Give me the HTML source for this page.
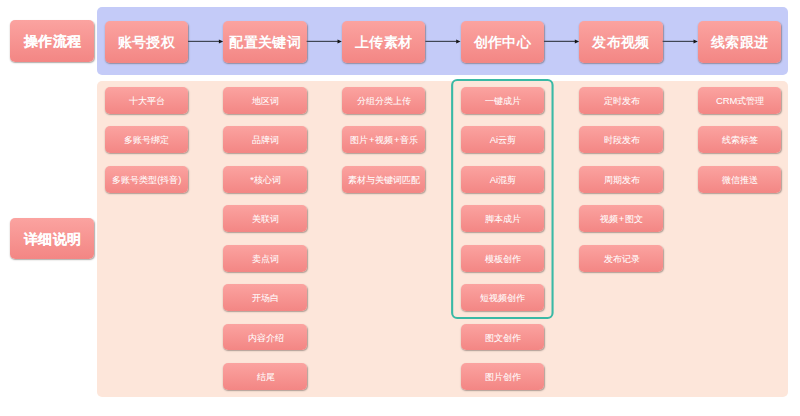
<!DOCTYPE html>
<html><head><meta charset="utf-8"><style>
html,body{margin:0;padding:0;width:800px;height:416px;overflow:hidden;background:#fff;}
body{position:relative;font-family:"Liberation Sans",sans-serif;}
.b{position:absolute;box-sizing:border-box;border-radius:5px;color:#fff;text-align:center;
 background:linear-gradient(#fba3a0,#f38684);box-shadow:0.9px 1px 1.4px rgba(80,65,60,.45);}
.big{height:41.8px;line-height:43px;font-size:14.4px;font-weight:bold;letter-spacing:0.35px;text-indent:0.35px;text-shadow:0 0.3px 0.6px rgba(150,60,60,.2);}
.sm{height:26.9px;line-height:27.2px;font-size:9.4px;padding-left:1.2px;}
.sm i{font-style:normal;padding:0 0.7px;}
.sm span{display:inline-block;-webkit-text-stroke:0.05px #fff;}
.lab{-webkit-text-stroke:0.1px #fff;padding-left:1px;line-height:43.4px;font-size:14.3px;letter-spacing:0.5px;}
.panel{position:absolute;border-radius:5px;}
svg{position:absolute;left:0;top:0;}
</style></head><body>
<div class="panel" style="left:97px;top:7px;width:691px;height:67.7px;background:#c4cbf8"></div>
<div class="panel" style="left:97px;top:81px;width:691px;height:315.5px;background:#fde6da"></div>
<div class="b big lab" style="left:10.2px;top:20.3px;width:83.4px">操作流程</div>
<div class="b big lab" style="left:10.2px;top:218.2px;width:83.4px;height:41.2px">详细说明</div>

<div class="b big" style="left:104.60px;top:20.9px;width:83.4px">账号授权</div>
<div class="b sm" style="left:104.60px;top:87.00px;width:83.4px"><span>十大平台</span></div>
<div class="b sm" style="left:104.60px;top:126.42px;width:83.4px"><span>多账号绑定</span></div>
<div class="b sm" style="left:104.60px;top:165.84px;width:83.4px"><span>多账号类型(抖音)</span></div>
<div class="b big" style="left:223.26px;top:20.9px;width:83.4px">配置关键词</div>
<div class="b sm" style="left:223.26px;top:87.00px;width:83.4px"><span>地区词</span></div>
<div class="b sm" style="left:223.26px;top:126.42px;width:83.4px"><span>品牌词</span></div>
<div class="b sm" style="left:223.26px;top:165.84px;width:83.4px"><span>*核心词</span></div>
<div class="b sm" style="left:223.26px;top:205.26px;width:83.4px"><span>关联词</span></div>
<div class="b sm" style="left:223.26px;top:244.68px;width:83.4px"><span>卖点词</span></div>
<div class="b sm" style="left:223.26px;top:284.10px;width:83.4px"><span>开场白</span></div>
<div class="b sm" style="left:223.26px;top:323.52px;width:83.4px"><span>内容介绍</span></div>
<div class="b sm" style="left:223.26px;top:362.94px;width:83.4px"><span>结尾</span></div>
<div class="b big" style="left:341.92px;top:20.9px;width:83.4px">上传素材</div>
<div class="b sm" style="left:341.92px;top:87.00px;width:83.4px"><span>分组分类上传</span></div>
<div class="b sm" style="left:341.92px;top:126.42px;width:83.4px"><span>图片<i>+</i>视频<i>+</i>音乐</span></div>
<div class="b sm" style="left:341.92px;top:165.84px;width:83.4px"><span>素材与关键词匹配</span></div>
<div class="b big" style="left:460.58px;top:20.9px;width:83.4px">创作中心</div>
<div class="b sm" style="left:460.58px;top:87.00px;width:83.4px"><span>一键成片</span></div>
<div class="b sm" style="left:460.58px;top:126.42px;width:83.4px"><span>Ai云剪</span></div>
<div class="b sm" style="left:460.58px;top:165.84px;width:83.4px"><span>Ai混剪</span></div>
<div class="b sm" style="left:460.58px;top:205.26px;width:83.4px"><span>脚本成片</span></div>
<div class="b sm" style="left:460.58px;top:244.68px;width:83.4px"><span>模板创作</span></div>
<div class="b sm" style="left:460.58px;top:284.10px;width:83.4px"><span>短视频创作</span></div>
<div class="b sm" style="left:460.58px;top:323.52px;width:83.4px"><span>图文创作</span></div>
<div class="b sm" style="left:460.58px;top:362.94px;width:83.4px"><span>图片创作</span></div>
<div class="b big" style="left:579.24px;top:20.9px;width:83.4px">发布视频</div>
<div class="b sm" style="left:579.24px;top:87.00px;width:83.4px"><span>定时发布</span></div>
<div class="b sm" style="left:579.24px;top:126.42px;width:83.4px"><span>时段发布</span></div>
<div class="b sm" style="left:579.24px;top:165.84px;width:83.4px"><span>周期发布</span></div>
<div class="b sm" style="left:579.24px;top:205.26px;width:83.4px"><span>视频<i>+</i>图文</span></div>
<div class="b sm" style="left:579.24px;top:244.68px;width:83.4px"><span>发布记录</span></div>
<div class="b big" style="left:697.90px;top:20.9px;width:83.4px">线索跟进</div>
<div class="b sm" style="left:697.90px;top:87.00px;width:83.4px"><span>CRM式管理</span></div>
<div class="b sm" style="left:697.90px;top:126.42px;width:83.4px"><span>线索标签</span></div>
<div class="b sm" style="left:697.90px;top:165.84px;width:83.4px"><span>微信推送</span></div>
<svg width="800" height="416" viewBox="0 0 800 416">
<line x1="188.00" y1="41.4" x2="219.26" y2="41.4" stroke="#404655" stroke-width="1.2"/>
<polygon points="218.86,39.6 223.16,41.5 218.86,43.4" fill="#151515"/>
<line x1="306.66" y1="41.4" x2="337.92" y2="41.4" stroke="#404655" stroke-width="1.2"/>
<polygon points="337.52,39.6 341.82,41.5 337.52,43.4" fill="#151515"/>
<line x1="425.32" y1="41.4" x2="456.58" y2="41.4" stroke="#404655" stroke-width="1.2"/>
<polygon points="456.18,39.6 460.48,41.5 456.18,43.4" fill="#151515"/>
<line x1="543.98" y1="41.4" x2="575.24" y2="41.4" stroke="#404655" stroke-width="1.2"/>
<polygon points="574.84,39.6 579.14,41.5 574.84,43.4" fill="#151515"/>
<line x1="662.64" y1="41.4" x2="693.90" y2="41.4" stroke="#404655" stroke-width="1.2"/>
<polygon points="693.50,39.6 697.80,41.5 693.50,43.4" fill="#151515"/>
<rect x="452.15" y="79.95" width="100.4" height="238.1" rx="5" ry="5" fill="none" stroke="#3ab9a5" stroke-width="2.1"/>
</svg>
</body></html>
